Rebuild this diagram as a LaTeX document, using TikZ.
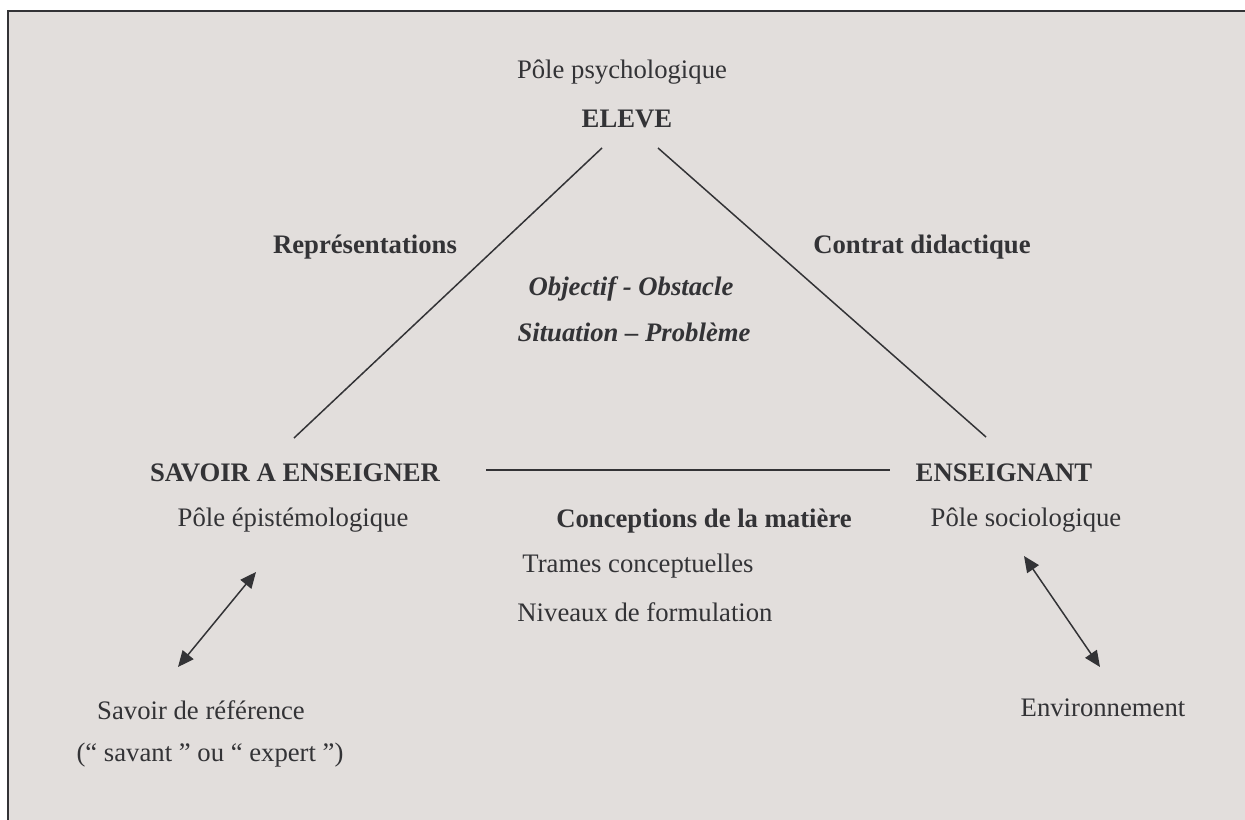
\documentclass[tikz,border=0pt]{standalone}
\usepackage{fontspec}
\setmainfont{Liberation Serif}
\usepackage{tikz}
\usetikzlibrary{arrows.meta}
\definecolor{fond}{HTML}{E2DEDC}
\definecolor{encre}{HTML}{333336}
\tikzstyle{txt}=[text=encre, inner sep=0pt, font=\fontsize{15.2}{18}\selectfont]
\tikzstyle{pole}=[txt, font=\fontsize{15.2}{18}\selectfont\bfseries]
\tikzstyle{idee}=[txt, font=\fontsize{15.2}{18}\selectfont\bfseries\itshape]
\tikzstyle{link}=[draw=encre, line width=0.85pt]
\tikzstyle{arrow}=[draw=encre, line width=0.85pt, {Triangle[length=3.2mm,width=2.8mm]}-{Triangle[length=3.2mm,width=2.8mm]}]

\begin{document}
\begin{tikzpicture}[x=0.02cm, y=-0.02cm]
	\path[use as bounding box] (0,0) rectangle (1245,820);
	\clip (0,0) rectangle (1245,820);
	\fill[fond] (7.7,11) rectangle (1270,840);
	\draw[encre, line width=1.1pt] (7.7,840) -- (7.7,11) -- (1270,11);
	\begin{scope}
		% poles
		\node (psy) at (622, 72)[txt] {Pôle psychologique};
		\node (eleve) at (627, 119)[pole] {ELEVE};
		\node (savoir) at (295, 473)[pole] {SAVOIR A ENSEIGNER};
		\node (epist) at (293, 520)[txt] {Pôle épistémologique};
		\node (ens) at (1004, 473)[pole] {ENSEIGNANT};
		\node (socio) at (1026, 520)[txt] {Pôle sociologique};

		% relations
		\node (repr) at (365, 247)[pole] {Représentations};
		\node (contrat) at (922, 247)[pole] {Contrat didactique};
		\node (obj) at (631, 289)[idee] {Objectif - Obstacle};
		\node (sit) at (634, 332)[idee] {Situation – Problème};
		\node (concep) at (704, 521)[pole] {Conceptions de la matière};
		\node (trames) at (638, 566)[txt] {Trames conceptuelles};
		\node (niv) at (645, 612)[txt] {Niveaux de formulation};

		% dehors
		\node (ref) at (201, 710)[txt] {Savoir de référence};
		\node (expert) at (210, 755)[txt] {(“ savant ” ou “ expert ”)};
		\node (env) at (1103, 708)[txt] {Environnement};
	\end{scope}
	\begin{scope}
		\coordinate (e1) at (602, 148);
		\coordinate (e2) at (658, 148);
		\coordinate (s1) at (294, 438);
		\coordinate (s2) at (486, 470);
		\coordinate (n1) at (986, 437);
		\coordinate (n2) at (890, 470);
		\coordinate (a1) at (256, 572);
		\coordinate (a2) at (178, 667);
		\coordinate (b1) at (1024, 556);
		\coordinate (b2) at (1100, 667);

		\path [link] (e1) edge (s1);
		\path [link] (e2) edge (n1);
		\path [link] (s2) edge (n2);

		\draw [arrow] (a1) -- (a2);
		\draw [arrow] (b1) -- (b2);
	\end{scope}
\end{tikzpicture}
\end{document}
